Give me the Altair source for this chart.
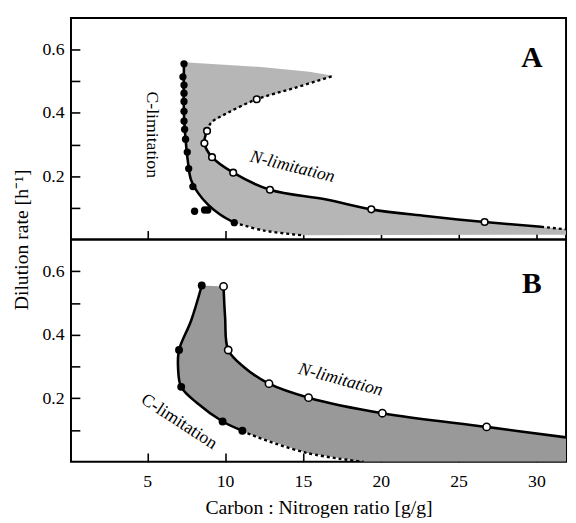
import altair as alt
import pandas as pd

FONT = "Liberation Serif"
W, H_A, H_B = 503, 225, 226
XD = [0.1, 31.9]
YD = [0.0, 0.7]
X_TICKS = [5, 10, 15, 20, 25, 30]
Y_TICKS = [0.1, 0.2, 0.3, 0.4, 0.5, 0.6]
FILL_A = "#b6b6b6"
FILL_B = "#999999"
TICK = 9

# ---------------- Panel A ----------------
a_c_pts_x = [7.36, 7.29, 7.36, 7.36, 7.36, 7.36, 7.36, 7.40, 7.46, 7.57, 7.66, 7.93, 8.04, 8.68, 8.89, 10.59]
a_c_pts_y = [0.555, 0.514, 0.488, 0.462, 0.436, 0.405, 0.374, 0.348, 0.317, 0.276, 0.224, 0.167, 0.089, 0.093, 0.093, 0.053]
a_n_pts_x = [12.03, 8.84, 8.67, 9.16, 10.52, 12.88, 19.39, 26.67]
a_n_pts_y = [0.443, 0.343, 0.304, 0.260, 0.211, 0.157, 0.095, 0.055]
a_c_line_x = [7.36, 7.34, 7.38, 7.46, 7.60, 7.80, 8.25, 8.90, 9.70, 10.59]
a_c_line_y = [0.560, 0.450, 0.370, 0.317, 0.250, 0.190, 0.148, 0.110, 0.078, 0.053]
a_c_dash_x = [10.59, 12.5, 15.0]
a_c_dash_y = [0.053, 0.028, 0.013]
a_n_line_x = [8.84, 8.67, 9.16, 10.52, 12.88, 16.5, 19.39, 22.9, 26.67, 30.3]
a_n_line_y = [0.343, 0.304, 0.260, 0.211, 0.157, 0.126, 0.095, 0.074, 0.055, 0.040]
a_n_dash_x = [30.3, 31.9]
a_n_dash_y = [0.040, 0.032]
a_up_dash_x = [8.84, 9.10, 10.16, 12.03, 14.4, 16.96]
a_up_dash_y = [0.343, 0.369, 0.400, 0.443, 0.478, 0.517]
a_top_x = [7.36, 12.3, 15.4, 16.96]
a_top_y = [0.560, 0.545, 0.530, 0.517]
a_floor_x = [31.9, 15.0]
a_floor_y = [0.015, 0.013]
a_text = ["C-limitation", "N-limitation", "A"]
a_text_x = [5.32, 14.32, 29.7]
a_text_y = [0.331, 0.229, 0.574]

# ---------------- Panel B ----------------
b_c_pts_x = [8.50, 7.04, 7.18, 9.84, 11.11]
b_c_pts_y = [0.555, 0.352, 0.236, 0.127, 0.098]
b_n_pts_x = [9.90, 10.20, 12.82, 15.36, 20.10, 26.80]
b_n_pts_y = [0.552, 0.352, 0.246, 0.202, 0.153, 0.110]
b_c_line_x = [8.50, 7.82, 7.04, 6.98, 7.18, 8.20, 9.84, 11.11]
b_c_line_y = [0.555, 0.445, 0.352, 0.294, 0.236, 0.185, 0.127, 0.098]
b_c_dash_x = [11.11, 11.64, 15.25, 18.9]
b_c_dash_y = [0.098, 0.086, 0.028, 0.0]
b_n_line_x = [9.90, 10.00, 10.20, 11.22, 12.82, 15.36, 20.10, 26.80, 31.9]
b_n_line_y = [0.552, 0.455, 0.352, 0.298, 0.246, 0.202, 0.153, 0.110, 0.077]
b_floor_x = [31.9]
b_floor_y = [0.0]
b_text = ["N-limitation", "C-limitation", "B"]
b_text_x = [17.42, 7.04, 29.7]
b_text_y = [0.258, 0.126, 0.560]


def table(xs, ys, s=0):
    return pd.DataFrame({"x": xs, "y": ys, "i": list(range(len(xs))), "s": [s] * len(xs)})


def segs(*pairs):
    return pd.concat([table(xs, ys, k) for k, (xs, ys) in enumerate(pairs)], ignore_index=True)


TICK_STYLE = dict(ticks=True, tickSize=TICK, tickWidth=1.6, tickColor="black",
                  domain=False, grid=False, offset=-TICK)


def y_axis(title, h):
    kw = dict(orient="left", values=Y_TICKS, format=".1f",
              labelExpr="(round(datum.value * 10) % 2 == 0) ? datum.label : ''",
              labelFont=FONT, labelFontSize=18, labelPadding=7, labelColor="black",
              **TICK_STYLE)
    if title:
        kw.update(title=title, titleFont=FONT, titleFontSize=20, titleFontWeight="normal",
                  titleColor="black", titleX=-59, titleY=h, titleAngle=270,
                  titleBaseline="middle", titleAlign="center")
    else:
        kw.update(title=None)
    return alt.Axis(**kw)


def x_axis(with_labels):
    if with_labels:
        return alt.Axis(orient="bottom", values=X_TICKS, format="d",
                        labelFont=FONT, labelFontSize=18, labelPadding=11, labelColor="black",
                        title="Carbon : Nitrogen ratio [g/g]", titleFont=FONT,
                        titleFontSize=20, titleFontWeight="normal", titleColor="black",
                        titlePadding=8, **TICK_STYLE)
    return alt.Axis(orient="bottom", values=X_TICKS, labels=False, title=None, **TICK_STYLE)


def panel(h, poly, solid, dashed, filled, opened, fill, texts, xlabels, ytitle, dot):
    XA = x_axis(xlabels)
    YA = y_axis(ytitle, h)

    def X(field="x"):
        return alt.X(f"{field}:Q", scale=alt.Scale(domain=XD, nice=False, zero=False), axis=XA)

    def Y(field="y"):
        return alt.Y(f"{field}:Q", scale=alt.Scale(domain=YD, nice=False, zero=False), axis=YA)

    layers = [
        alt.Chart(poly).mark_line(fill=fill, strokeWidth=0, interpolate="linear", clip=True)
        .encode(x=X(), y=Y(), order="i:Q"),
        alt.Chart(solid).mark_line(color="black", strokeWidth=2.6, interpolate="catmull-rom", clip=True)
        .encode(x=X(), y=Y(), detail="s:N", order="i:Q"),
        alt.Chart(dashed).mark_line(color="black", strokeWidth=2.4, strokeDash=[3, 3],
                                    interpolate="catmull-rom", clip=True)
        .encode(x=X(), y=Y(), detail="s:N", order="i:Q"),
        alt.Chart(filled).mark_point(shape="circle", filled=True, color="black", opacity=1, size=dot)
        .encode(x=X(), y=Y()),
        alt.Chart(opened).mark_point(shape="circle", filled=True, fill="white", stroke="black",
                                     strokeWidth=1.6, opacity=1, size=dot - 10)
        .encode(x=X(), y=Y()),
    ]
    for df, style in texts:
        layers.append(alt.Chart(df).mark_text(font=FONT, color="black", align="center",
                                              baseline="middle", **style)
                      .encode(x=X(), y=Y(), text="t:N"))
    return alt.layer(*layers).properties(width=W, height=h)


def label_df(texts, xs, ys, k):
    return pd.DataFrame({"t": [texts[k]], "x": [xs[k]], "y": [ys[k]]})


# Panel A polygon: top edge, upper dotted boundary back, N-limitation, floor, C-lim dashed back, C-lim line back
poly_a_x = (a_top_x + a_up_dash_x[::-1][1:] + a_n_line_x[1:] + a_n_dash_x[1:] + a_floor_x
            + a_c_dash_x[::-1][1:] + a_c_line_x[::-1][1:])
poly_a_y = (a_top_y + a_up_dash_y[::-1][1:] + a_n_line_y[1:] + a_n_dash_y[1:] + a_floor_y
            + a_c_dash_y[::-1][1:] + a_c_line_y[::-1][1:])
poly_b_x = b_c_line_x + b_c_dash_x[1:] + b_floor_x + b_n_line_x[::-1]
poly_b_y = b_c_line_y + b_c_dash_y[1:] + b_floor_y + b_n_line_y[::-1]

panel_a = panel(
    H_A,
    table(poly_a_x, poly_a_y),
    segs((a_c_line_x, a_c_line_y), (a_n_line_x, a_n_line_y)),
    segs((a_c_dash_x, a_c_dash_y), (a_n_dash_x, a_n_dash_y), (a_up_dash_x, a_up_dash_y)),
    table(a_c_pts_x, a_c_pts_y), table(a_n_pts_x, a_n_pts_y), FILL_A,
    [
        (label_df(a_text, a_text_x, a_text_y, 0), dict(fontSize=18, angle=90)),
        (label_df(a_text, a_text_x, a_text_y, 1), dict(fontSize=18, angle=14, fontStyle="italic")),
        (label_df(a_text, a_text_x, a_text_y, 2), dict(fontSize=30, fontWeight="bold")),
    ],
    False, "Dilution rate [h⁻¹]", 55,
)

panel_b = panel(
    H_B,
    table(poly_b_x, poly_b_y),
    segs((b_c_line_x, b_c_line_y), (b_n_line_x, b_n_line_y)),
    segs((b_c_dash_x, b_c_dash_y)),
    table(b_c_pts_x, b_c_pts_y), table(b_n_pts_x, b_n_pts_y), FILL_B,
    [
        (label_df(b_text, b_text_x, b_text_y, 0), dict(fontSize=18, angle=15, fontStyle="italic")),
        (label_df(b_text, b_text_x, b_text_y, 1), dict(fontSize=18, angle=33)),
        (label_df(b_text, b_text_x, b_text_y, 2), dict(fontSize=30, fontWeight="bold")),
    ],
    True, None, 65,
)

chart = (
    alt.vconcat(panel_a, panel_b, spacing=0, bounds="flush")
    .properties(padding={"left": 3, "top": 5, "right": 1, "bottom": 0})
    .configure_view(stroke="black", strokeWidth=2)
)

chart.save("out.html", embed_options={"renderer": "svg", "actions": False})
